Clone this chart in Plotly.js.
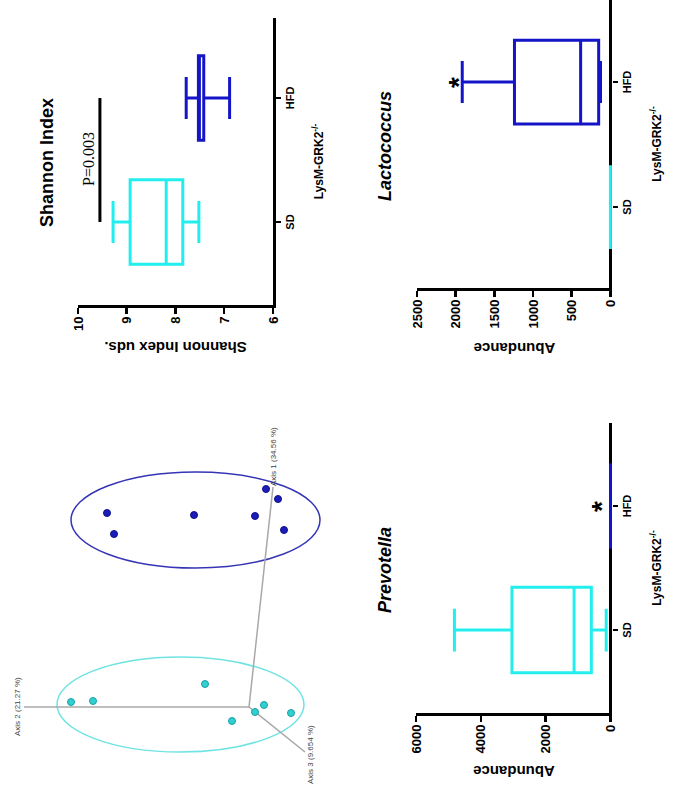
<!DOCTYPE html>
<html><head><meta charset="utf-8">
<script src="https://cdn.plot.ly/plotly-3.0.1.min.js"></script>
<style>
html,body{margin:0;padding:0;overflow:hidden;background:#fff;width:684px;height:795px;}
#wrap{position:absolute;left:0;top:0;width:795px;height:684px;transform-origin:0 0;transform:translate(0,795px) rotate(-90deg);}
#chart{width:795px;height:684px;}
</style></head><body>
<div id="wrap"><div id="chart"></div></div>
<script>
// ---------- data ----------
const groups = ['SD', 'HFD'];

// Shannon index (box statistics per group)
const shannonLow    = [7.52, 6.89];
const shannonQ1     = [7.85, 7.42];
const shannonMedian = [8.19, 7.51];
const shannonQ3     = [8.93, 7.53];
const shannonHigh   = [9.28, 7.78];
const shannonPBar   = [9.55, 9.55];
const shannonPText  = 'P=0.003';

// Lactococcus abundance
const lactoLow    = [0, 128];
const lactoQ1     = [0, 152];
const lactoMedian = [0, 385];
const lactoQ3     = [0, 1240];
const lactoHigh   = [0, 1915];
const lactoStar   = [2040];

// Prevotella abundance
const prevoLow    = [132, 0];
const prevoQ1     = [591, 0];
const prevoMedian = [1123, 0];
const prevoQ3     = [3040, 0];
const prevoHigh   = [4815, 0];
const prevoStar   = [460];

// PCoA (projected scores)
const pcoaSDx  = [0.05, 0.06, 0.23, -0.14, -0.05, 0.02, -0.06];
const pcoaSDy  = [1.78, 1.56, 0.44, 0.17, -0.06, -0.15, -0.42];
const pcoaHFDx = [1.94, 1.73, 1.92, 1.91, 2.18, 2.08, 1.77];
const pcoaHFDy = [1.42, 1.35, 0.55, -0.06, -0.17, -0.29, -0.35];
const pcoaAxisEndX = [2.20, 0.00, -0.45];
const pcoaAxisEndY = [-0.24, 2.25, -0.56];
const pcoaAxisLabels = ['Axis 1 (34.56 %)', 'Axis 2 (21.27 %)', 'Axis 3 (9.654 %)'];
const ellipseCx = [0.025, 1.87];
const ellipseCy = [0.685, 0.535];
const ellipseRx = [0.475, 0.48];
const ellipseRy = [1.235, 1.245];

// ---------- styles ----------
const FONT = 'Liberation Sans, Arial, sans-serif';
const SERIF = 'Liberation Serif, Times New Roman, serif';
const CYAN = '#22EEEE';
const BLUE = '#1414C8';
const colors = [CYAN, BLUE];

function boxTrace(xa, ya, i, low, q1, med, q3, high, w) {
  return {
    type: 'box', xaxis: xa, yaxis: ya,
    x: [groups[i]], q1: [q1[i]], median: [med[i]], q3: [q3[i]],
    lowerfence: [low[i]], upperfence: [high[i]],
    width: w, whiskerwidth: 0.5,
    line: {color: colors[i], width: 3},
    fillcolor: 'rgba(0,0,0,0)', boxpoints: false,
    hoverinfo: 'skip', showlegend: false
  };
}

const traces = [];
[0, 1].forEach(i => traces.push(boxTrace('x', 'y', i, shannonLow, shannonQ1, shannonMedian, shannonQ3, shannonHigh, 0.68)));
[0, 1].forEach(i => traces.push(boxTrace('x2', 'y2', i, lactoLow, lactoQ1, lactoMedian, lactoQ3, lactoHigh, 0.67)));
[0, 1].forEach(i => traces.push(boxTrace('x3', 'y3', i, prevoLow, prevoQ1, prevoMedian, prevoQ3, prevoHigh, 0.69)));

// significance bar
traces.push({type: 'scatter', mode: 'lines', xaxis: 'x', yaxis: 'y', x: groups, y: shannonPBar,
  line: {color: '#000', width: 3}, hoverinfo: 'skip', showlegend: false});

// PCoA axes
const axX = [], axY = [];
pcoaAxisEndX.forEach((v, k) => { axX.push(0, v, null); axY.push(0, pcoaAxisEndY[k], null); });
traces.push({type: 'scatter', mode: 'lines', xaxis: 'x4', yaxis: 'y4', x: axX, y: axY,
  line: {color: '#A8A8A8', width: 1.5}, hoverinfo: 'skip', showlegend: false});
traces.push({type: 'scatter', mode: 'markers', xaxis: 'x4', yaxis: 'y4', x: pcoaSDx, y: pcoaSDy,
  marker: {color: '#2FD0D0', size: 7, line: {color: '#1E9FA8', width: 1}}, hoverinfo: 'skip', showlegend: false});
traces.push({type: 'scatter', mode: 'markers', xaxis: 'x4', yaxis: 'y4', x: pcoaHFDx, y: pcoaHFDy,
  marker: {color: '#1C1CB8', size: 7, line: {color: '#10108A', width: 1}}, hoverinfo: 'skip', showlegend: false});

const xTitle = 'LysM-GRK2<sup>-/-</sup>';
const valAxis = (domain, range, dtick, title, standoff) => ({
  domain: domain, range: range, dtick: dtick, tick0: 0,
  showgrid: false, zeroline: false, showline: true, linecolor: '#000', linewidth: 3,
  ticks: 'outside', ticklen: 6, tickwidth: 2.5, tickcolor: '#000',
  tickfont: {family: FONT, size: 13, color: '#000', weight: 'bold'}, fixedrange: true,
  title: {text: title, standoff: standoff, font: {family: FONT, size: 15, color: '#000', weight: 'bold'}}
});
const catAxis = (domain, range) => ({
  type: 'category', categoryorder: 'array', categoryarray: groups,
  domain: domain, range: range,
  showgrid: false, zeroline: false, showline: true, linecolor: '#000', linewidth: 3,
  ticks: 'outside', ticklen: 5, tickwidth: 2.5, tickcolor: '#000',
  tickfont: {family: FONT, size: 11, color: '#000', weight: 'bold'}, fixedrange: true,
  title: {text: xTitle, standoff: 20, font: {family: FONT, size: 12, color: '#000', weight: 'bold'}}
});

const xaxis2 = catAxis([0.6377, 1.0], [-0.648, 1.656]); xaxis2.showline = false;
const xaxis3 = catAxis([0.1031, 0.4679], [-0.669, 1.669]); xaxis3.showline = false;
const yaxis2 = valAxis([0.1053, 0.3904], [-20, 2500], 500, 'Abundance', 11);
Object.assign(yaxis2, {zeroline: true, zerolinecolor: '#000', zerolinewidth: 3});
const yaxis3 = valAxis([0.1053, 0.3918], [-46, 6000], 2000, 'Abundance', 9);
Object.assign(yaxis3, {zeroline: true, zerolinecolor: '#000', zerolinewidth: 3});

const ann = (text, x, y, size, opts) => Object.assign({
  text: text, x: x, y: y, xref: 'paper', yref: 'paper', showarrow: false,
  xanchor: 'center', yanchor: 'middle',
  font: {family: FONT, size: size, color: '#000', weight: 'bold'}
}, opts || {});

const annotations = [
  ann('Shannon Index', 0.795, 0.9313, 18),
  ann(shannonPText, 0.800, 0.8713, 16, {font: {family: SERIF, size: 16, color: '#000'}}),
  ann('Lactococcus', 0.8164, 0.4371, 18, {font: {family: FONT, size: 18, color: '#000', weight: 'bold', style: 'italic'}}),
  ann('Prevotella', 0.2830, 0.4371, 18, {font: {family: FONT, size: 18, color: '#000', weight: 'bold', style: 'italic'}}),
  {text: '*', x: 'HFD', y: lactoStar[0], xref: 'x2', yref: 'y2', showarrow: false, yshift: -6,
   font: {family: FONT, size: 28, color: '#000', weight: 'bold'}},
  {text: '*', x: 'HFD', y: prevoStar[0], xref: 'x3', yref: 'y3', showarrow: false, yshift: -6,
   font: {family: FONT, size: 28, color: '#000', weight: 'bold'}},
  {text: pcoaAxisLabels[0], x: pcoaAxisEndX[0] - 0.01, y: pcoaAxisEndY[0], xref: 'x4', yref: 'y4', showarrow: false,
   xanchor: 'left', yanchor: 'middle', font: {family: FONT, size: 8, color: '#444'}},
  {text: pcoaAxisLabels[1], x: pcoaAxisEndX[1], y: pcoaAxisEndY[1] + 0.07, xref: 'x4', yref: 'y4', showarrow: false,
   xanchor: 'center', yanchor: 'middle', font: {family: FONT, size: 8, color: '#444'}},
  {text: pcoaAxisLabels[2], x: pcoaAxisEndX[2] - 0.03, y: pcoaAxisEndY[2] - 0.05, xref: 'x4', yref: 'y4', showarrow: false,
   xanchor: 'center', yanchor: 'middle', font: {family: FONT, size: 8, color: '#444'}}
];

const shapes = [0, 1].map(k => ({
  type: 'circle', xref: 'x4', yref: 'y4', layer: 'below',
  x0: ellipseCx[k] - ellipseRx[k], x1: ellipseCx[k] + ellipseRx[k],
  y0: ellipseCy[k] - ellipseRy[k], y1: ellipseCy[k] + ellipseRy[k],
  line: {color: k === 0 ? '#6FE3E3' : '#3535B5', width: 1.5}
}));

const layout = {
  width: 795, height: 684, margin: {l: 0, r: 0, t: 0, b: 0},
  paper_bgcolor: '#fff', plot_bgcolor: 'rgba(0,0,0,0)',
  showlegend: false, boxmode: 'overlay',
  font: {family: FONT, color: '#000'},
  xaxis: catAxis([0.6164, 0.9774], [-0.669, 1.645]),
  yaxis: valAxis([0.6009, 0.8860], [6, 10], 1, 'Shannon Index uds.', 7),
  xaxis2: xaxis2, yaxis2: yaxis2,
  xaxis3: xaxis3, yaxis3: yaxis3,
  xaxis4: {domain: [0, 0.5], range: [-0.88, 3.095], visible: false, fixedrange: true},
  yaxis4: {domain: [0.5, 1.0], range: [-0.93, 2.49], visible: false, fixedrange: true},
  annotations: annotations,
  shapes: shapes
};
layout.xaxis.anchor = 'y'; layout.yaxis.anchor = 'x';
layout.xaxis2.anchor = 'y2'; layout.yaxis2.anchor = 'x2';
layout.xaxis3.anchor = 'y3'; layout.yaxis3.anchor = 'x3';
layout.xaxis4.anchor = 'y4'; layout.yaxis4.anchor = 'x4';

Plotly.newPlot('chart', traces, layout, {staticPlot: true, displayModeBar: false});
</script>
</body></html>
